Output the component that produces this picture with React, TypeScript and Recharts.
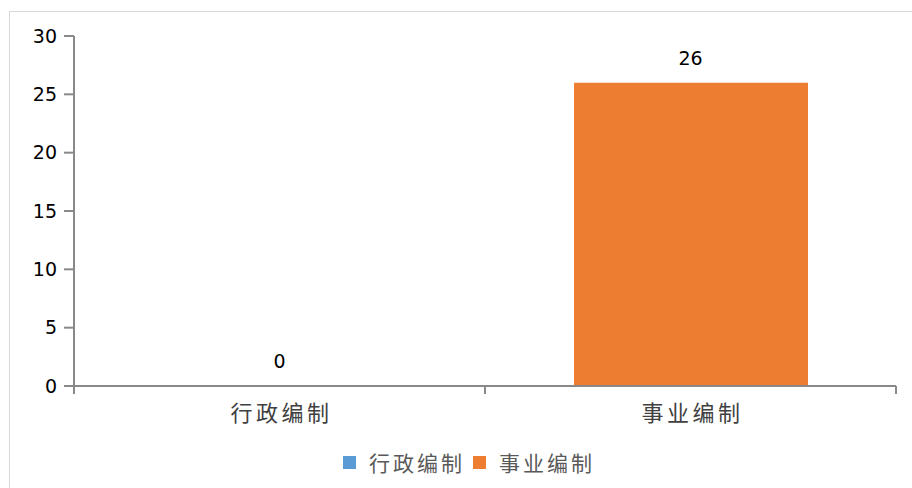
import { ComposedChart, Bar, Line, Cell, XAxis, YAxis, Legend, LabelList } from "recharts";

const categories = ["行政编制", "事业编制"];
const values = [0, 26];
const colors = ["#5B9BD5", "#ED7D31"];
const yTicks = [0, 5, 10, 15, 20, 25, 30];

const data = categories.map((name, i) => ({ name, value: values[i] }));

const AXIS = "#898989";
const NUM_FONT = "'DejaVu Sans', Verdana, sans-serif";
const CJK_FONT = "'Noto Sans CJK SC', 'DejaVu Sans', sans-serif";

function CategoryTick(props: any) {
  const { x, y, payload, index, visibleTicksCount } = props;
  const half = payload?.offset ?? 0;
  const last = index === visibleTicksCount - 1;
  return (
    <g>
      <line x1={x - half} x2={x - half} y1={y} y2={y + 8} stroke={AXIS} strokeWidth={2} />
      {last && <line x1={x + half} x2={x + half} y1={y} y2={y + 8} stroke={AXIS} strokeWidth={2} />}
      <text
        x={x + 2}
        y={y + 35}
        textAnchor="middle"
        fill="#404040"
        fontSize={22}
        fontFamily={CJK_FONT}
        letterSpacing={3.5}
      >
        {payload.value}
      </text>
    </g>
  );
}

function LegendContent() {
  return (
    <div
      style={{
        height: 52,
        display: "flex",
        justifyContent: "center",
        alignItems: "center",
        paddingLeft: 50,
        fontFamily: CJK_FONT,
        fontSize: 21,
        color: "#595959",
        letterSpacing: 3,
      }}
    >
      {categories.map((c, i) => (
        <span key={c} style={{ display: "flex", alignItems: "center", marginRight: 8 }}>
          <span style={{ width: 13, height: 13, background: colors[i], marginRight: 13 }} />
          {c}
        </span>
      ))}
    </div>
  );
}

export default function App() {
  return (
    <div style={{ position: "absolute", left: 0, top: 0, width: 912, height: 488, overflow: "hidden", background: "#fff" }}>
      <div
        style={{
          position: "absolute",
          left: 9,
          top: 11,
          width: 1000,
          height: 600,
          border: "1px solid #d9d9d9",
        }}
      />
      <ComposedChart
        width={912}
        height={488}
        data={data}
        margin={{ top: 36, right: 16, left: 0, bottom: 0 }}
        style={{ position: "absolute", left: 0, top: 0 }}
      >
        <YAxis
          width={74}
          domain={[0, 30]}
          ticks={yTicks}
          interval={0}
          tickSize={10}
          tickMargin={7}
          axisLine={{ stroke: AXIS, strokeWidth: 2 }}
          tickLine={{ stroke: AXIS, strokeWidth: 2 }}
          tick={{ fill: "#000", fontSize: 19, fontFamily: NUM_FONT }}
        />
        <XAxis
          dataKey="name"
          height={50}
          interval={0}
          tickSize={0}
          tickMargin={0}
          tickLine={false}
          axisLine={{ stroke: AXIS, strokeWidth: 2 }}
          tick={<CategoryTick />}
        />
        <Legend verticalAlign="bottom" content={<LegendContent />} />
        <Bar dataKey="value" barSize={234} isAnimationActive={false}>
          {data.map((_, i) => (
            <Cell key={i} fill={colors[i]} />
          ))}
        </Bar>
        <Line
          dataKey="value"
          stroke="none"
          dot={false}
          activeDot={false}
          legendType="none"
          isAnimationActive={false}
        >
          <LabelList
            dataKey="value"
            position="top"
            offset={18}
            fill="#000"
            fontSize={19}
            fontFamily={NUM_FONT}
          />
        </Line>
      </ComposedChart>
    </div>
  );
}
